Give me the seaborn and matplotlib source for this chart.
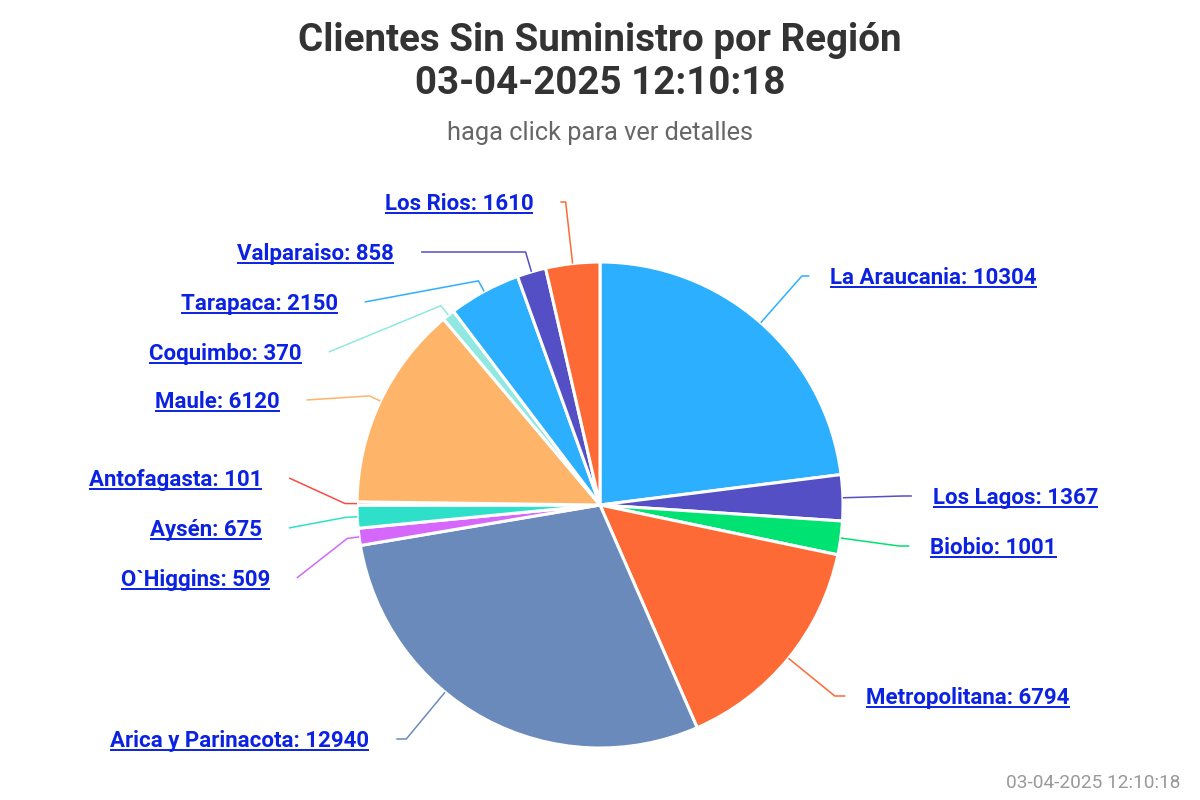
import numpy as np
import seaborn as sns
import matplotlib.pyplot as plt

# ==========================================
# DATA
# ==========================================
regions = ["La Araucania", "Los Lagos", "Biobio", "Metropolitana",
           "Arica y Parinacota", "O`Higgins", "Aysén", "Antofagasta",
           "Maule", "Coquimbo", "Tarapaca", "Valparaiso", "Los Rios"]
clientes = [10304, 1367, 1001, 6794, 12940, 509, 675, 101, 6120, 370,
            2150, 858, 1610]

title_line1 = "Clientes Sin Suministro por Región"
title_line2 = "03-04-2025 12:10:18"
subtitle = "haga click para ver detalles"
credit = "03-04-2025 12:10:18"

# ==========================================
# LAYOUT (pixel coords, y going down)
# ==========================================
CX, CY, RADIUS = 600, 505, 243
LABEL_R = 307      # radius + label distance
PAD = 5
BREAK = 12
# label rows after spreading them out so they don't overlap
label_y = [276, 496, 546, 696, 739, 578, 528, 478, 400, 352, 302, 252, 202]

slice_colors = ["#2caffe", "#544fc5", "#00e272", "#fe6a35", "#6b8abc",
                "#d568fb", "#2ee0ca", "#fa4b42", "#feb56a", "#91e8e1",
                "#2caffe", "#544fc5", "#fe6a35"]
LINK = "#0b22e3"

# ==========================================
# PLOT
# ==========================================
sns.set_theme(style="white")
plt.rcParams["font.family"] = ["Roboto", "DejaVu Sans"]

fig = plt.figure(figsize=(12, 8), dpi=100)
ax = fig.add_axes([0, 0, 1, 1])

palette = sns.color_palette(slice_colors)

wedges, _ = ax.pie(clientes, colors=palette, startangle=-90, counterclock=True,
                   center=(CX, CY), radius=RADIUS,
                   wedgeprops=dict(edgecolor="white", linewidth=2.2))
ax.set_xlim(0, 1200)
ax.set_ylim(800, 0)
ax.set_aspect("equal")
ax.axis("off")

texts = []
ymin, ymax = min(label_y), max(label_y)
for i, w in enumerate(wedges):
    th = np.deg2rad((w.theta1 + w.theta2) / 2)
    side = -1 if np.cos(th) < 0 else 1
    y = label_y[i]
    natural_y = CY + LABEL_R * np.sin(th)

    # x of the connector end (top label keeps its natural row for x)
    y_for_x = natural_y if y < ymin + 2 else y
    dx = np.sqrt(max(LABEL_R ** 2 - (y_for_x - CY) ** 2, 0)) + PAD
    xe = CX + side * dx

    # label pushed outside the pie's natural range -> aim connector at label
    if natural_y > ymax + 5 or natural_y < ymin - 5:
        th = np.arctan2(y - CY, side * (dx - 2 * PAD))

    touch = (CX + RADIUS * np.cos(th), CY + RADIUS * np.sin(th))
    brk = (CX + (RADIUS + BREAK) * np.cos(th), CY + (RADIUS + BREAK) * np.sin(th))
    pts = [(xe, y)]
    if abs(np.sin(th)) > 1e-6:
        crook_x = CX + (y - CY) * np.cos(th) / np.sin(th)
        if min(xe, brk[0]) <= crook_x <= max(xe, brk[0]):
            pts.append((crook_x, y))
    pts += [brk, touch]
    xs, ys = zip(*pts)
    ax.plot(xs, ys, color=palette[i], lw=1.1, solid_capstyle="butt")

    tx = xe + 21 if side > 0 else xe - 27
    t = ax.text(tx, y + 8, f"{regions[i]}: {clientes[i]}",
                ha="left" if side > 0 else "right", va="baseline",
                fontsize=16, fontweight="bold", color=LINK)
    texts.append((t, y))

# titles
ax.text(600, 51, title_line1, ha="center", va="baseline", fontsize=27.7,
        fontweight="bold", color="#333333")
ax.text(600, 94, title_line2, ha="center", va="baseline", fontsize=27.7,
        fontweight="bold", color="#333333")
ax.text(600, 140, subtitle, ha="center", va="baseline", fontsize=18.3,
        color="#666666")
ax.text(1180, 788, credit, ha="right", va="baseline", fontsize=13.7,
        color="#999999")

# underline the labels like links
fig.canvas.draw()
renderer = fig.canvas.get_renderer()
inv = ax.transData.inverted()
for t, y in texts:
    bb = t.get_window_extent(renderer)
    x0 = inv.transform((bb.x0, 0))[0]
    x1 = inv.transform((bb.x1, 0))[0]
    ax.plot([x0, x1], [y + 11, y + 11], color=LINK, lw=1.4,
            solid_capstyle="butt")

plt.savefig("out.png", dpi=100)
